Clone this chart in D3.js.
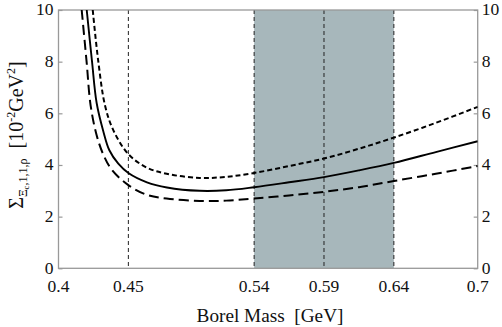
<!DOCTYPE html>
<html>
<head>
<meta charset="utf-8">
<script src="https://cdn.jsdelivr.net/npm/d3@7"></script>
<style>
  html, body { margin: 0; padding: 0; background: #fff; }
  svg { display: block; }
</style>
</head>
<body>
<svg id="chart" width="502" height="327"></svg>
<script>
// ---- data ----
const xTicks = [0.4, 0.45, 0.54, 0.59, 0.64, 0.7];
const xTickLabels = ["0.4", "0.45", "0.54", "0.59", "0.64", "0.7"];
const yTicks = [0, 2, 4, 6, 8, 10];
const yTickLabels = ["0", "2", "4", "6", "8", "10"];
const markerLines = [0.45, 0.54, 0.59, 0.64];
const bandRange = [0.54, 0.64];

const centralMass  = [0.4202, 0.424, 0.4273, 0.4321, 0.4364, 0.4428, 0.45, 0.4633, 0.4776, 0.501, 0.52, 0.54, 0.565, 0.59, 0.615, 0.64, 0.67, 0.7];
const centralSigma = [10, 8, 6.4, 5.3, 4.57, 4.05, 3.69, 3.33, 3.13, 3.0, 3.02, 3.14, 3.33, 3.53, 3.79, 4.08, 4.5, 4.92];

const upperMass  = [0.4245, 0.4285, 0.4333, 0.4392, 0.45, 0.4631, 0.4774, 0.501, 0.52, 0.54, 0.565, 0.59, 0.615, 0.64, 0.67, 0.7];
const upperSigma = [10, 8, 6.3, 5.35, 4.42, 3.9, 3.66, 3.5, 3.54, 3.69, 3.96, 4.25, 4.63, 5.06, 5.63, 6.25];

const lowerMass  = [0.4166, 0.4201, 0.423, 0.4273, 0.4321, 0.4381, 0.45, 0.4631, 0.4774, 0.501, 0.52, 0.54, 0.565, 0.59, 0.615, 0.64, 0.67, 0.7];
const lowerSigma = [10, 8, 6.3, 5.15, 4.4, 3.82, 3.22, 2.85, 2.70, 2.61, 2.62, 2.70, 2.82, 2.96, 3.14, 3.38, 3.66, 3.96];

// ---- layout ----
const FONT = "'Liberation Serif'";
const svg = d3.select("#chart");
const pL = 58.5, pR = 477.7, pT = 10, pB = 268.3;
const x = d3.scaleLinear().domain([0.4, 0.7]).range([pL, pR]);
const y = d3.scaleLinear().domain([0, 10]).range([pB, pT]);

svg.append("defs").append("clipPath").attr("id", "plotclip")
  .append("rect").attr("x", pL).attr("y", pT)
  .attr("width", pR - pL).attr("height", pB - pT);

// shaded band
svg.append("rect")
  .attr("x", x(bandRange[0])).attr("y", pT)
  .attr("width", x(bandRange[1]) - x(bandRange[0]))
  .attr("height", pB - pT)
  .attr("fill", "#a7b7bb");

// vertical dashed marker lines
svg.append("g").selectAll("line").data(markerLines).join("line")
  .attr("x1", d => x(d)).attr("x2", d => x(d))
  .attr("y1", pT).attr("y2", pB)
  .attr("stroke", "#222").attr("stroke-width", 1)
  .attr("stroke-dasharray", "4,3");

// frame
svg.append("rect")
  .attr("x", pL).attr("y", pT)
  .attr("width", pR - pL).attr("height", pB - pT)
  .attr("fill", "none").attr("stroke", "#999").attr("stroke-width", 1.3);

// axes (inner ticks)
const leftAxis = d3.axisRight(y).tickValues(yTicks).tickSize(4).tickFormat(() => "");
const rightAxis = d3.axisLeft(y).tickValues(yTicks).tickSize(4).tickFormat(() => "");
const gl = svg.append("g").attr("transform", `translate(${pL},0)`).call(leftAxis);
const gr = svg.append("g").attr("transform", `translate(${pR},0)`).call(rightAxis);
[gl, gr].forEach(g => {
  g.select(".domain").remove();
  g.selectAll(".tick line").attr("stroke", "#999").attr("stroke-width", 1.2);
});

// tick labels
const tickFont = 17.5;
svg.append("g").selectAll("text").data(yTicks).join("text")
  .attr("font-family", FONT).attr("fill", "#111")
  .attr("x", pL - 5).attr("y", d => y(d)).attr("dy", "0.3em")
  .attr("text-anchor", "end").attr("font-size", tickFont)
  .text((d, i) => yTickLabels[i]);
svg.append("g").selectAll("text").data(yTicks).join("text")
  .attr("font-family", FONT).attr("fill", "#111")
  .attr("x", pR + 4).attr("y", d => y(d)).attr("dy", "0.3em")
  .attr("text-anchor", "start").attr("font-size", tickFont)
  .text((d, i) => yTickLabels[i]);
svg.append("g").selectAll("text").data(xTicks).join("text")
  .attr("font-family", FONT).attr("fill", "#111")
  .attr("x", d => x(d)).attr("y", 292)
  .attr("text-anchor", "middle").attr("font-size", tickFont)
  .text((d, i) => xTickLabels[i]);

// curves
const line = d3.line().x(d => x(d[0])).y(d => y(d[1])).curve(d3.curveCatmullRom.alpha(0.5));
const curves = [
  { m: centralMass, s: centralSigma, dash: null, w: 1.9 },
  { m: upperMass, s: upperSigma, dash: "5,3", w: 2 },
  { m: lowerMass, s: lowerSigma, dash: "10,5", w: 2 }
];
const gc = svg.append("g").attr("clip-path", "url(#plotclip)");
curves.forEach(c => {
  gc.append("path")
    .datum(d3.zip(c.m, c.s))
    .attr("d", line)
    .attr("fill", "none").attr("stroke", "#000")
    .attr("stroke-width", c.w)
    .attr("stroke-dasharray", c.dash);
});

// x axis title (fit to reference width ~147px)
const xt = svg.append("text")
  .attr("font-family", FONT).attr("fill", "#111")
  .attr("x", 270).attr("y", 321.5)
  .attr("text-anchor", "middle").attr("font-size", 19.5)
  .attr("xml:space", "preserve")
  .style("white-space", "pre")
  .text("Borel Mass  [GeV]");
const xtLen = xt.node().getComputedTextLength();
if (xtLen > 0) xt.attr("font-size", Math.max(16, Math.min(22, 19.5 * 147 / xtLen)));

// y axis title
const yt = svg.append("text")
  .attr("font-family", FONT).attr("fill", "#111")
  .attr("transform", "translate(23,135) rotate(-90)")
  .attr("text-anchor", "middle").attr("font-size", 20)
  .attr("xml:space", "preserve")
  .style("white-space", "pre");
yt.append("tspan").text("Σ");
yt.append("tspan").attr("font-size", 12).attr("dy", 4).text("Ξ");
yt.append("tspan").attr("font-size", 9).attr("dy", 2).text("c");
yt.append("tspan").attr("font-size", 12).attr("dy", -2).text(",1,1,ρ");
yt.append("tspan").attr("dy", -4).text("  [10");
yt.append("tspan").attr("font-size", 12).attr("dy", -8).text("-2");
yt.append("tspan").attr("dy", 8).text("GeV");
yt.append("tspan").attr("font-size", 12).attr("dy", -8).text("2");
yt.append("tspan").attr("dy", 8).text("]");
</script>
</body>
</html>
